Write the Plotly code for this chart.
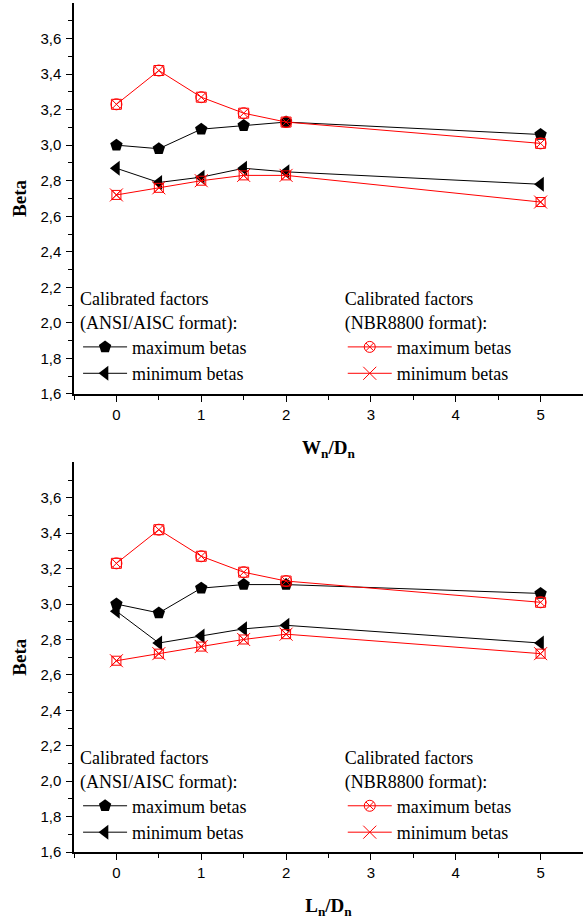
import plotly.graph_objects as go
from plotly.subplots import make_subplots

x_vals = [0, 0.5, 1, 1.5, 2, 5]

# Top panel (Wn/Dn)
w_ansi_max = [3.00, 2.98, 3.09, 3.11, 3.13, 3.06]
w_ansi_min = [2.87, 2.79, 2.82, 2.87, 2.85, 2.78]
w_nbr_max = [3.23, 3.42, 3.27, 3.18, 3.13, 3.01]
w_nbr_min = [2.72, 2.76, 2.80, 2.83, 2.83, 2.68]

# Bottom panel (Ln/Dn)
l_ansi_max = [3.00, 2.95, 3.09, 3.11, 3.11, 3.06]
l_ansi_min = [2.96, 2.78, 2.82, 2.86, 2.88, 2.78]
l_nbr_max = [3.23, 3.42, 3.27, 3.18, 3.13, 3.01]
l_nbr_min = [2.68, 2.72, 2.76, 2.80, 2.83, 2.72]

y_ticks = [1.6, 1.8, 2.0, 2.2, 2.4, 2.6, 2.8, 3.0, 3.2, 3.4, 3.6]
y_minor = [1.7, 1.9, 2.1, 2.3, 2.5, 2.7, 2.9, 3.1, 3.3, 3.5, 3.7]
x_ticks = [0, 1, 2, 3, 4, 5]
x_minor = [-0.5, 0.5, 1.5, 2.5, 3.5, 4.5]

fig = make_subplots(rows=2, cols=1, vertical_spacing=0.08)

SERIF = "Liberation Serif, Times New Roman, serif"
SANS = "Liberation Sans, Arial, sans-serif"
RED = "#ff0000"


def add_panel(row, amax, amin, nmax, nmin, lg_a, lg_n):
    fig.add_trace(go.Scatter(x=x_vals, y=amax, mode="lines+markers", name="maximum betas",
                             line=dict(color="black", width=1),
                             marker=dict(symbol="pentagon", size=13, color="black"),
                             legend=lg_a), row=row, col=1)
    fig.add_trace(go.Scatter(x=x_vals, y=amin, mode="lines+markers", name="minimum betas",
                             line=dict(color="black", width=1),
                             marker=dict(symbol="triangle-left", size=13, color="black"),
                             legend=lg_a), row=row, col=1)
    fig.add_trace(go.Scatter(x=x_vals, y=nmax, mode="lines+markers", name="maximum betas",
                             line=dict(color=RED, width=1),
                             marker=dict(symbol="circle-x-open", size=11, color=RED,
                                         line=dict(color=RED, width=1)),
                             legend=lg_n), row=row, col=1)
    fig.add_trace(go.Scatter(x=x_vals, y=nmax, mode="markers", showlegend=False,
                             marker=dict(symbol="square-open", size=10, color=RED,
                                         line=dict(color=RED, width=1)),
                             legend=lg_n), row=row, col=1)
    fig.add_trace(go.Scatter(x=x_vals, y=nmin, mode="lines+markers", name="minimum betas",
                             line=dict(color=RED, width=1),
                             marker=dict(symbol="x-thin-open", size=13, color=RED,
                                         line=dict(color=RED, width=1)),
                             legend=lg_n), row=row, col=1)
    fig.add_trace(go.Scatter(x=x_vals, y=nmin, mode="markers", showlegend=False,
                             marker=dict(symbol="square-x-open", size=9, color=RED,
                                         line=dict(color=RED, width=1)),
                             legend=lg_n), row=row, col=1)


add_panel(1, w_ansi_max, w_ansi_min, w_nbr_max, w_nbr_min, "legend", "legend2")
add_panel(2, l_ansi_max, l_ansi_min, l_nbr_max, l_nbr_min, "legend3", "legend4")

axis_common = dict(showline=True, linecolor="black", linewidth=1.5, mirror=False,
                   showgrid=False, zeroline=False, ticks="outside", ticklen=6,
                   tickwidth=1.2, tickcolor="black", automargin=False,
                   tickfont=dict(family=SANS, size=15, color="black"))

for r, title in [(1, "W<sub>n</sub>/D<sub>n</sub>"), (2, "L<sub>n</sub>/D<sub>n</sub>")]:
    fig.update_xaxes(range=[-0.5, 5.5], tickvals=x_ticks,
                     minor=dict(tickvals=x_minor, ticklen=4, tickcolor="black", ticks="outside"),
                     title=dict(text="<b>" + title + "</b>", font=dict(family=SERIF, size=19, color="black"),
                                standoff=19),
                     row=r, col=1, **axis_common)
    fig.update_yaxes(range=[1.6, 3.8], tickvals=y_ticks, tickformat=".1f",
                     ticklabelstandoff=2,
                     minor=dict(tickvals=y_minor, ticklen=4, tickcolor="black", ticks="outside"),
                     title=dict(text="<b>Beta</b>", font=dict(family=SERIF, size=19, color="black"),
                                standoff=9),
                     row=r, col=1, **axis_common)

top_dom = [0.5395, 1.0]
bot_dom = [0.0, 0.4589]
fig.update_yaxes(domain=top_dom, row=1, col=1)
fig.update_yaxes(domain=bot_dom, row=2, col=1)

LEG_FONT = dict(family=SERIF, size=18, color="black")


def legend_cfg(x, y, title):
    return dict(bgcolor="rgba(0,0,0,0)", font=LEG_FONT,
                xanchor="left", yanchor="top", tracegroupgap=0, itemwidth=44,
                x=x, y=y, title=dict(text=title, font=LEG_FONT, side="top"))


ansi_title = "Calibrated factors<br>(ANSI/AISC format):"
nbr_title = "Calibrated factors<br>(NBR8800 format):"

fig.update_layout(
    width=586, height=920,
    margin=dict(l=74, r=3, t=3, b=68, autoexpand=False),
    plot_bgcolor="white", paper_bgcolor="white",
    font=dict(family=SERIF, size=17, color="black"),
    separators=",.",
    showlegend=True,
    legend=legend_cfg(0.008, 0.6715, ansi_title),
    legend2=legend_cfg(0.528, 0.6715, nbr_title),
    legend3=legend_cfg(0.008, 0.131, ansi_title),
    legend4=legend_cfg(0.528, 0.131, nbr_title),
)

fig.write_html("out.html", config={"displayModeBar": False},
               post_script="document.body.style.margin='0';document.body.style.overflow='hidden';")
